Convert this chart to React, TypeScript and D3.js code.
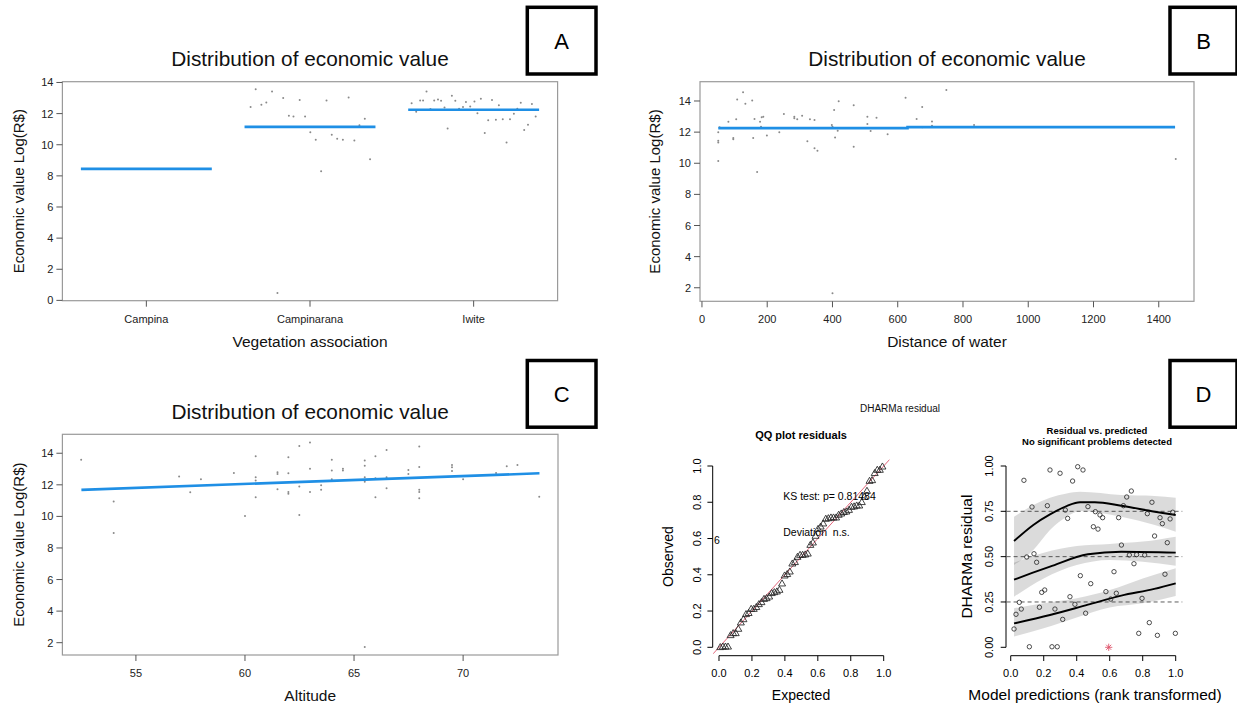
import React from 'react';
import * as d3 from 'd3';

const W = 1237;
const H = 707;
const FONT = "'Liberation Sans', Arial, Helvetica, sans-serif";

// ---------- Panel A: vegetation association ----------
const vegCategories = ['Campina', 'Campinarana', 'Iwite'];
const vegMeans = [8.45, 11.15, 12.25];
const campinaranaJitter = [-0.363, -0.332, -0.297, -0.267, -0.232, -0.199, -0.164, -0.129, -0.101, -0.063, -0.03, 0.002, 0.035, 0.068, 0.101, 0.133, 0.166, 0.201, 0.236, 0.271, 0.302, 0.335, 0.367];
const campinaranaValues = [12.42, 13.57, 12.57, 12.71, 13.42, 0.47, 13.0, 11.86, 11.82, 12.87, 11.82, 10.81, 10.32, 8.3, 12.84, 10.64, 10.38, 10.32, 13.04, 10.27, 11.26, 11.67, 9.07];
const iwiteJitter = [-0.379, -0.351, -0.327, -0.309, -0.288, -0.264, -0.241, -0.218, -0.199, -0.178, -0.159, -0.133, -0.112, -0.089, -0.065, -0.047, -0.021, 0.005, 0.023, 0.044, 0.068, 0.089, 0.112, 0.136, 0.154, 0.178, 0.201, 0.222, 0.246, 0.267, 0.288, 0.309, 0.332, 0.356, 0.379];
const iwiteValues = [12.67, 12.12, 12.84, 12.84, 13.42, 12.29, 12.84, 12.9, 12.82, 12.39, 11.04, 13.14, 12.82, 12.31, 12.42, 12.74, 12.46, 12.78, 12.03, 12.95, 10.75, 11.58, 12.87, 11.6, 12.54, 11.64, 10.15, 11.64, 11.99, 12.31, 12.69, 10.94, 11.28, 12.61, 11.82];
const vegYTicks = [0, 2, 4, 6, 8, 10, 12, 14];

// ---------- Panel B: distance of water ----------
const waterDist = [50, 50, 50, 50, 54, 81, 96, 96, 105, 108, 126, 133, 154, 157, 161, 169, 178, 181, 183, 188, 199, 237, 251, 283, 283, 292, 307, 323, 331, 345, 345, 354, 398, 400, 400, 405, 408, 416, 419, 465, 465, 507, 507, 517, 535, 569, 624, 658, 675, 675, 705, 705, 749, 834, 1452];
const waterValue = [11.34, 11.45, 11.99, 10.14, 12.31, 12.67, 11.62, 11.54, 12.82, 14.1, 14.56, 13.83, 14.04, 11.62, 12.84, 9.44, 12.67, 12.35, 12.95, 12.99, 11.79, 11.99, 13.16, 12.99, 12.89, 12.82, 13.06, 11.41, 12.82, 12.78, 10.96, 10.81, 12.46, 12.35, 1.64, 13.42, 11.66, 12.09, 13.98, 13.72, 11.06, 12.99, 12.52, 12.07, 12.93, 11.86, 14.21, 12.84, 13.61, 12.31, 12.69, 12.41, 14.71, 12.46, 10.27];
const waterFitX = [50, 630, 630, 1450];
const waterFitY = [12.26, 12.26, 12.32, 12.32];
const waterXTicks = [0, 200, 400, 600, 800, 1000, 1200, 1400];
const waterYTicks = [2, 4, 6, 8, 10, 12, 14];

// ---------- Panel C: altitude ----------
const altitude = [52.49, 53.98, 53.98, 56.98, 57.49, 57.98, 59.49, 60.0, 60.49, 60.49, 60.49, 60.49, 61.49, 61.49, 61.49, 61.99, 61.99, 61.99, 61.99, 62.49, 62.49, 62.49, 62.98, 62.98, 62.98, 63.49, 63.49, 63.98, 63.98, 63.98, 64.49, 64.49, 65.49, 65.49, 65.49, 65.49, 65.49, 65.98, 65.98, 65.98, 66.49, 66.49, 66.49, 67.49, 67.49, 67.99, 67.99, 67.99, 67.99, 67.99, 69.49, 69.49, 69.49, 70.0, 71.51, 72.0, 72.49, 73.49];
const altValue = [13.58, 10.94, 8.95, 12.52, 11.53, 12.35, 12.75, 10.03, 13.81, 12.48, 12.27, 11.21, 12.8, 12.69, 11.72, 13.75, 12.73, 11.55, 11.44, 14.46, 11.89, 10.09, 14.68, 13.01, 11.55, 11.97, 11.68, 13.58, 12.9, 12.35, 13.01, 12.9, 13.54, 13.2, 12.48, 12.2, 1.72, 13.81, 12.42, 11.21, 14.21, 12.48, 11.78, 12.94, 12.69, 14.42, 13.13, 11.68, 11.55, 11.15, 13.26, 13.11, 12.88, 12.35, 12.75, 13.18, 13.26, 11.25];
const altFitX = [52.5, 73.5];
const altFitY = [11.68, 12.73];
const altXTicks = [55, 60, 65, 70];
const altYTicks = [2, 4, 6, 8, 10, 12, 14];

// ---------- Panel D: DHARMa residuals ----------
const rankPred = [0.02, 0.032, 0.052, 0.064, 0.08, 0.097, 0.113, 0.129, 0.141, 0.157, 0.174, 0.188, 0.206, 0.222, 0.238, 0.25, 0.268, 0.282, 0.299, 0.315, 0.331, 0.345, 0.359, 0.375, 0.389, 0.406, 0.422, 0.438, 0.454, 0.468, 0.485, 0.501, 0.513, 0.529, 0.541, 0.557, 0.577, 0.606, 0.626, 0.64, 0.654, 0.671, 0.683, 0.703, 0.719, 0.731, 0.747, 0.763, 0.776, 0.796, 0.812, 0.828, 0.84, 0.856, 0.872, 0.889, 0.905, 0.919, 0.935, 0.949, 0.966, 0.982, 0.998];
const dharmaResid = [0.101, 0.182, 0.248, 0.211, 0.921, 0.498, 0.003, 0.774, 0.516, 0.469, 0.221, 0.303, 0.316, 0.781, 0.978, 0.003, 0.211, 0.003, 0.96, 0.154, 0.757, 0.711, 0.279, 0.917, 0.237, 0.996, 0.395, 0.978, 0.188, 0.776, 0.351, 0.665, 0.748, 0.652, 0.73, 0.715, 0.307, 0.266, 0.417, 0.298, 0.715, 0.564, 0.781, 0.829, 0.509, 0.862, 0.461, 0.511, 0.077, 0.27, 0.509, 0.737, 0.136, 0.8, 0.614, 0.066, 0.715, 0.682, 0.403, 0.577, 0.708, 0.745, 0.077];
const outlierPred = [0.594];
const outlierResid = [0.0];
const quantileLevels = [0.25, 0.5, 0.75];

const q75X = [0.02, 0.137, 0.238, 0.339, 0.42, 0.51, 0.67, 0.873, 1.0];
const q75Y = [0.586, 0.675, 0.733, 0.779, 0.8, 0.8, 0.781, 0.748, 0.73];
const q75BandX = [0.02, 0.137, 0.238, 0.339, 0.42, 0.67, 0.873, 1.0];
const q75Lo = [0.454, 0.537, 0.647, 0.72, 0.752, 0.72, 0.675, 0.638];
const q75Hi = [0.72, 0.785, 0.825, 0.849, 0.858, 0.84, 0.835, 0.825];

const q50X = [0.02, 0.13, 0.238, 0.468, 0.67, 1.0];
const q50Y = [0.373, 0.41, 0.445, 0.513, 0.527, 0.522];
const q50BandX = [0.02, 0.2, 0.4, 0.6, 0.8, 1.0];
const q50Lo = [0.279, 0.38, 0.454, 0.482, 0.472, 0.45];
const q50Hi = [0.467, 0.522, 0.559, 0.57, 0.583, 0.61];

const q25X = [0.02, 0.238, 0.468, 0.67, 0.87, 1.0];
const q25Y = [0.132, 0.178, 0.235, 0.285, 0.322, 0.353];
const q25BandX = [0.02, 0.2, 0.4, 0.6, 0.8, 1.0];
const q25Lo = [0.059, 0.105, 0.165, 0.22, 0.243, 0.283];
const q25Hi = [0.215, 0.243, 0.27, 0.316, 0.38, 0.436];

const qqTicks = [0, 0.2, 0.4, 0.6, 0.8, 1.0];
const residYTicks = [0, 0.25, 0.5, 0.75, 1.0];
const ksText = 'KS test: p= 0.81484';
const devText = 'Deviation\u00A0\u00A0n.s.';

// ---------- helpers ----------
const BLUE = '#1F8FE5';
const PT = '#8a8a8a';
const BOXC = '#9a9a9a';
const TICKC = '#555';
const LABC = '#222';
const RRED = '#DF536B';

function Frame(props: {
  x0: number; x1: number; y0: number; y1: number;
  xs: (v: number) => number; ys: (v: number) => number;
  xTicks: number[]; xLabels: string[]; yTicks: number[];
  title: string; titleY: number; xLabel: string; ylabX: number;
  xTickLabY: number; xLabY: number;
}) {
  const { x0, x1, y0, y1, xs, ys, xTicks, xLabels, yTicks, title, titleY, xLabel, ylabX, xTickLabY, xLabY } = props;
  const cx = (x0 + x1) / 2;
  const cy = (y0 + y1) / 2;
  return (
    <g fontFamily={FONT}>
      <text x={cx} y={titleY + 7.4} textAnchor="middle" fontSize={20.8} fill="#111">{title}</text>
      <rect x={x0} y={y0} width={x1 - x0} height={y1 - y0} fill="none" stroke={BOXC} strokeWidth={1.2} />
      {yTicks.map((t) => (
        <g key={'y' + t}>
          <line x1={x0 - 6} x2={x0} y1={ys(t)} y2={ys(t)} stroke={TICKC} strokeWidth={1} />
          <text x={x0 - 9} y={ys(t) + 4} textAnchor="end" fontSize={11} fill={LABC}>{t}</text>
        </g>
      ))}
      {xTicks.map((t, i) => (
        <g key={'x' + i}>
          <line x1={xs(t)} x2={xs(t)} y1={y1} y2={y1 + 6} stroke={TICKC} strokeWidth={1} />
          <text x={xs(t)} y={xTickLabY + 4} textAnchor="middle" fontSize={11} fill={LABC}>{xLabels[i]}</text>
        </g>
      ))}
      <text x={cx} y={xLabY + 5.6} textAnchor="middle" fontSize={15.5} fill="#111">{xLabel}</text>
      <text transform={`translate(${ylabX + 5.4},${cy}) rotate(-90)`} textAnchor="middle" fontSize={15} fill="#111">Economic value Log(R$)</text>
    </g>
  );
}

function LetterBox({ x, y, w, h, label }: { x: number; y: number; w: number; h: number; label: string }) {
  return (
    <g>
      <rect x={x} y={y} width={w} height={h} fill="#fff" stroke="#000" strokeWidth={3.5} />
      <text x={x + w / 2} y={y + h / 2 + 8} textAnchor="middle" fontSize={22} fontFamily={FONT} fill="#000">{label}</text>
    </g>
  );
}

export default function App() {
  // Panel A
  const aX0 = 62.4, aX1 = 557.6, aY0 = 81.7, aY1 = 300.7;
  const axs = d3.scaleLinear().domain([0.487, 3.513]).range([aX0, aX1]);
  const ays = d3.scaleLinear().domain([-0.02, 14.05]).range([aY1, aY0]);

  // Panel B
  const bX0 = 700, bX1 = 1194, bY0 = 81.7, bY1 = 301.3;
  const bxs = d3.scaleLinear().domain([-6, 1508]).range([bX0, bX1]);
  const bys = d3.scaleLinear().domain([1.13, 15.24]).range([bY1, bY0]);

  // Panel C
  const cX0 = 62.4, cX1 = 558, cY0 = 434.3, cY1 = 655;
  const cxs = d3.scaleLinear().domain([51.63, 74.35]).range([cX0, cX1]);
  const cys = d3.scaleLinear().domain([1.22, 15.2]).range([cY1, cY0]);

  // Panel D - QQ
  const qxs = d3.scaleLinear().domain([-0.036, 1.036]).range([713.07, 889.63]);
  const qys = d3.scaleLinear().domain([-0.04, 1.04]).range([654.55, 458.75]);
  const observed = [...dharmaResid, ...outlierResid].sort((a, b) => a - b);
  const n = observed.length;
  const expected = observed.map((_, i) => (i + 0.5) / n); // uniform plotting positions (ppoints)

  // Panel D - residual vs predicted
  const rxs = d3.scaleLinear().domain([-0.025, 1.04]).range([1006.6, 1182.3]);
  const rys = qys;

  const lineGen = (xs: any, ys: any) => d3.line<[number, number]>().x((d) => xs(d[0])).y((d) => ys(d[1])).curve(d3.curveMonotoneX);
  const areaGen = d3.area<[number, number, number]>().x((d) => rxs(d[0])).y0((d) => rys(d[1])).y1((d) => rys(d[2])).curve(d3.curveMonotoneX);
  const bands = [
    q25BandX.map((x, i) => [x, q25Lo[i], q25Hi[i]] as [number, number, number]),
    q50BandX.map((x, i) => [x, q50Lo[i], q50Hi[i]] as [number, number, number]),
    q75BandX.map((x, i) => [x, q75Lo[i], q75Hi[i]] as [number, number, number]),
  ];
  const curves = [
    q25X.map((x, i) => [x, q25Y[i]] as [number, number]),
    q50X.map((x, i) => [x, q50Y[i]] as [number, number]),
    q75X.map((x, i) => [x, q75Y[i]] as [number, number]),
  ];
  const rLine = lineGen(rxs, rys);

  const tri = (cx: number, cy: number, s: number) => {
    const h = s * 0.866;
    return `M${cx},${cy - h * 0.62}L${cx + s / 2},${cy + h * 0.38}L${cx - s / 2},${cy + h * 0.38}Z`;
  };

  const dFont = FONT;

  return (
    <svg width={W} height={H} viewBox={`0 0 ${W} ${H}`} style={{ position: 'absolute', left: 0, top: 0, background: '#fff' }}>
      <rect x={0} y={0} width={W} height={H} fill="#fff" />

      {/* ===== Panel A ===== */}
      <Frame x0={aX0} x1={aX1} y0={aY0} y1={aY1} xs={axs} ys={ays}
        xTicks={[1, 2, 3]} xLabels={vegCategories} yTicks={vegYTicks}
        title="Distribution of economic value" titleY={58.3} xLabel="Vegetation association"
        ylabX={18.4} xTickLabY={319.3} xLabY={341.7} />
      {campinaranaValues.map((v, i) => (
        <circle key={'ca' + i} cx={axs(2 + campinaranaJitter[i])} cy={ays(v)} r={1} fill={PT} />
      ))}
      {iwiteValues.map((v, i) => (
        <circle key={'iw' + i} cx={axs(3 + iwiteJitter[i])} cy={ays(v)} r={1} fill={PT} />
      ))}
      {vegMeans.map((m, i) => (
        <line key={'m' + i} x1={axs(i + 1 - 0.4)} x2={axs(i + 1 + 0.4)} y1={ays(m)} y2={ays(m)} stroke={BLUE} strokeWidth={2.6} />
      ))}
      <LetterBox x={527.3} y={7.3} w={68.7} h={66.7} label="A" />

      {/* ===== Panel B ===== */}
      <Frame x0={bX0} x1={bX1} y0={bY0} y1={bY1} xs={bxs} ys={bys}
        xTicks={waterXTicks} xLabels={waterXTicks.map(String)} yTicks={waterYTicks}
        title="Distribution of economic value" titleY={58.3} xLabel="Distance of water"
        ylabX={654.6} xTickLabY={319} xLabY={341.7} />
      {waterValue.map((v, i) => (
        <circle key={'w' + i} cx={bxs(waterDist[i])} cy={bys(v)} r={1} fill={PT} />
      ))}
      <path d={d3.line<number>().x((d, i) => bxs(waterFitX[i])).y((d) => bys(d))(waterFitY) || ''} fill="none" stroke={BLUE} strokeWidth={2.6} />
      <LetterBox x={1170} y={7.3} w={67} h={66.7} label="B" />

      {/* ===== Panel C ===== */}
      <Frame x0={cX0} x1={cX1} y0={cY0} y1={cY1} xs={cxs} ys={cys}
        xTicks={altXTicks} xLabels={altXTicks.map(String)} yTicks={altYTicks}
        title="Distribution of economic value" titleY={411.7} xLabel="Altitude"
        ylabX={18.4} xTickLabY={673.3} xLabY={695} />
      {altValue.map((v, i) => (
        <circle key={'al' + i} cx={cxs(altitude[i])} cy={cys(v)} r={1} fill={PT} />
      ))}
      <path d={d3.line<number>().x((d, i) => cxs(altFitX[i])).y((d) => cys(d))(altFitY) || ''} fill="none" stroke={BLUE} strokeWidth={2.6} />
      <LetterBox x={527.3} y={360.5} w={68.7} h={66.7} label="C" />

      {/* ===== Panel D ===== */}
      <LetterBox x={1170} y={360.5} w={67} h={66.7} label="D" />
      <text x={900} y={412} textAnchor="middle" fontSize={10} fontFamily={dFont} fill="#111">DHARMa residual</text>

      {/* QQ plot */}
      <g fontFamily={dFont}>
        <text x={801} y={439} textAnchor="middle" fontSize={11} fontWeight="bold" fill="#000">QQ plot residuals</text>
        <line x1={qxs(0)} x2={qxs(1)} y1={655.7} y2={655.7} stroke="#000" strokeWidth={1} />
        {qqTicks.map((t) => (
          <g key={'qx' + t}>
            <line x1={qxs(t)} x2={qxs(t)} y1={655.7} y2={661} stroke="#000" strokeWidth={1} />
            <text x={qxs(t)} y={677.3} textAnchor="middle" fontSize={11} fill="#000">{t.toFixed(1)}</text>
          </g>
        ))}
        <line x1={712.7} x2={712.7} y1={qys(0)} y2={qys(1)} stroke="#000" strokeWidth={1} />
        {qqTicks.map((t) => (
          <g key={'qy' + t}>
            <line x1={707.4} x2={712.7} y1={qys(t)} y2={qys(t)} stroke="#000" strokeWidth={1} />
            <text transform={`translate(${700.5},${qys(t)}) rotate(-90)`} textAnchor="middle" fontSize={11} fill="#000">{t.toFixed(1)}</text>
          </g>
        ))}
        <text x={801} y={700} textAnchor="middle" fontSize={14} fill="#000">Expected</text>
        <text transform={`translate(${673.3},${556.6}) rotate(-90)`} textAnchor="middle" fontSize={14} fill="#000">Observed</text>
        <defs>
          <clipPath id="qqclip"><rect x={713.07} y={458.75} width={176.56} height={195.8} /></clipPath>
        </defs>
        <line x1={qxs(-0.036)} y1={qys(-0.036)} x2={qxs(1.036)} y2={qys(1.036)} stroke={RRED} strokeWidth={0.9} clipPath="url(#qqclip)" />
        {observed.map((o, i) => (
          <path key={'qq' + i} d={tri(qxs(expected[i]), qys(o), 7)} fill="none" stroke="#222" strokeWidth={0.85} />
        ))}
        <text x={qxs(0.39)} y={qys(0.835) + 4} fontSize={10.5} fill="#000">{ksText}</text>
        <text x={qxs(0.39)} y={qys(0.638) + 4} fontSize={10.5} fill="#000">{devText}</text>
        <text x={qxs(-0.03)} y={qys(0.59) + 4} fontSize={10.5} fill="#000">6</text>
      </g>

      {/* Residual vs predicted */}
      <g fontFamily={dFont}>
        <text x={1097} y={433.5} textAnchor="middle" fontSize={9.5} fontWeight="bold" fill="#000">Residual vs. predicted</text>
        <text x={1097} y={444.5} textAnchor="middle" fontSize={9.5} fontWeight="bold" fill="#000">No significant problems detected</text>
        {bands.map((b, i) => (
          <path key={'band' + i} d={areaGen(b) || ''} fill="#000" fillOpacity={0.14} stroke="none" />
        ))}
        {quantileLevels.map((q) => (
          <line key={'ql' + q} x1={rxs.range()[0]} x2={rxs.range()[1]} y1={rys(q)} y2={rys(q)} stroke="#333" strokeWidth={0.8} strokeDasharray="4,3" />
        ))}
        {curves.map((c, i) => (
          <path key={'cv' + i} d={rLine(c) || ''} fill="none" stroke="#000" strokeWidth={1.9} />
        ))}
        {dharmaResid.map((r, i) => (
          <circle key={'rp' + i} cx={rxs(rankPred[i])} cy={rys(r)} r={2.2} fill="none" stroke="#222" strokeWidth={0.8} />
        ))}
        {outlierResid.map((r, i) => {
          const cx = rxs(outlierPred[i]);
          const cy = rys(r);
          const s = 3.6;
          return (
            <g key={'ol' + i} stroke={RRED} strokeWidth={0.9}>
              <line x1={cx - s} x2={cx + s} y1={cy} y2={cy} />
              <line x1={cx} x2={cx} y1={cy - s} y2={cy + s} />
              <line x1={cx - s * 0.7} x2={cx + s * 0.7} y1={cy - s * 0.7} y2={cy + s * 0.7} />
              <line x1={cx - s * 0.7} x2={cx + s * 0.7} y1={cy + s * 0.7} y2={cy - s * 0.7} />
            </g>
          );
        })}
        <line x1={rxs(0)} x2={rxs(1)} y1={655.7} y2={655.7} stroke="#000" strokeWidth={1} />
        {qqTicks.map((t) => (
          <g key={'rx' + t}>
            <line x1={rxs(t)} x2={rxs(t)} y1={655.7} y2={661} stroke="#000" strokeWidth={1} />
            <text x={rxs(t)} y={677.3} textAnchor="middle" fontSize={11} fill="#000">{t.toFixed(1)}</text>
          </g>
        ))}
        <line x1={1006} x2={1006} y1={rys(0)} y2={rys(1)} stroke="#000" strokeWidth={1} />
        {residYTicks.map((t) => (
          <g key={'ry' + t}>
            <line x1={1000.7} x2={1006} y1={rys(t)} y2={rys(t)} stroke="#000" strokeWidth={1} />
            <text transform={`translate(${993.3},${rys(t)}) rotate(-90)`} textAnchor="middle" fontSize={11} fill="#000">{t.toFixed(2)}</text>
          </g>
        ))}
        <text x={1095} y={699.5} textAnchor="middle" fontSize={15.5} fill="#000">Model predictions (rank transformed)</text>
        <text transform={`translate(${972},${556.6}) rotate(-90)`} textAnchor="middle" fontSize={15.5} fill="#000">DHARMa residual</text>
      </g>
    </svg>
  );
}
